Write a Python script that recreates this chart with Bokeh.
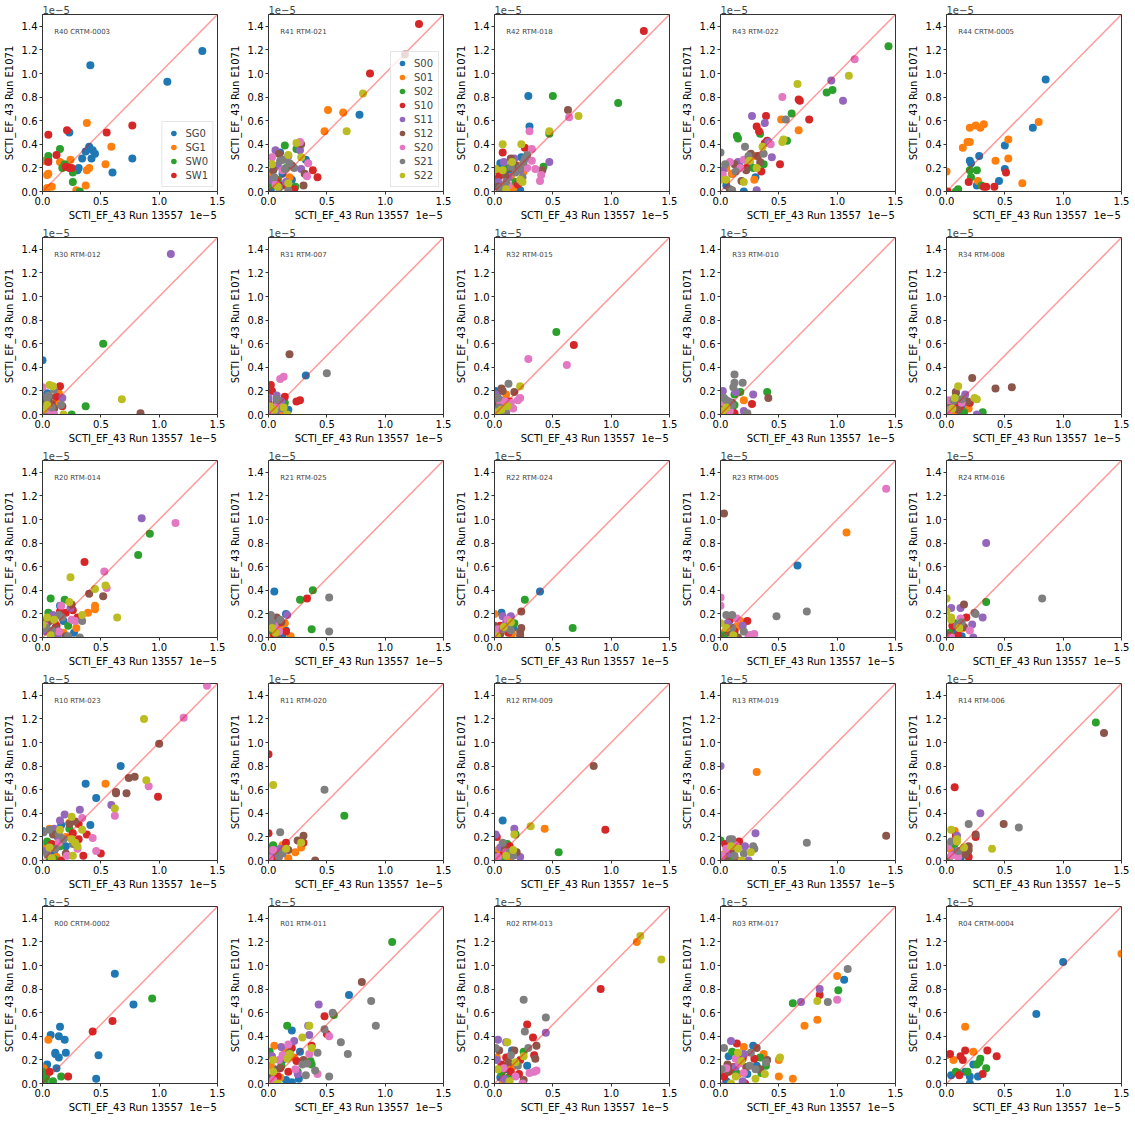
from bokeh.embed import file_html
from bokeh.layouts import gridplot
from bokeh.models import ColumnDataSource, FixedTicker, Label, PrintfTickFormatter, Range1d, Slope
from bokeh.plotting import figure
from bokeh.resources import INLINE

FONT = "DejaVu Sans"
EDGE = "#333333"
TAB10 = ["#1f77b4", "#ff7f0e", "#2ca02c", "#d62728", "#9467bd",
         "#8c564b", "#e377c2", "#7f7f7f", "#bcbd22"]

X_LABEL = "SCTI_EF_43 Run 13557"
Y_LABEL = "SCTI_EF_43 Run E1071"
X_TICKS = [0.0, 0.5, 1.0, 1.5]
Y_TICKS = [0.0, 0.2, 0.4, 0.6, 0.8, 1.0, 1.2, 1.4]
SCALE_TXT = "1e\u22125"

# values in units of 1e-5: (run 13557, run E1071)
R40 = {
    "SG0": [(1.37, 1.19), (1.07, 0.93), (0.41, 1.07), (0.23, 0.50), (0.40, 0.38), (0.37, 0.34),
            (0.43, 0.35), (0.45, 0.32), (0.42, 0.28), (0.34, 0.28), (0.31, 0.20), (0.30, 0.18),
            (0.77, 0.28), (0.60, 0.16)],
    "SG1": [(0.38, 0.58), (0.59, 0.38), (0.54, 0.23), (0.24, 0.27), (0.15, 0.25), (0.40, 0.20),
            (0.38, 0.18), (0.37, 0.05), (0.29, 0.01), (0.08, 0.04), (0.04, 0.03), (0.05, 0.15),
            (0.04, 0.14), (0.00, 0.26), (0.02, 0.26)],
    "SW0": [(0.05, 0.30), (0.15, 0.36), (0.19, 0.23), (0.17, 0.20), (0.21, 0.21), (0.26, 0.16),
            (0.26, 0.08), (0.32, 0.00), (0.05, 0.27)],
    "SW1": [(0.05, 0.48), (0.21, 0.52), (0.12, 0.31), (0.05, 0.25), (0.20, 0.21), (0.23, 0.20),
            (0.55, 0.50), (0.77, 0.56), (0.25, 0.20)],
}
R41 = {
    "S00": [(0.78, 0.65), (0.32, 0.27), (0.10, 0.33), (0.12, 0.15), (0.05, 0.08), (0.20, 0.10), (0.02, 0.02)],
    "S01": [(0.51, 0.69), (0.64, 0.67), (0.48, 0.51), (0.05, 0.20), (0.10, 0.06), (0.18, 0.12), (0.01, 0.15)],
    "S02": [(0.14, 0.39), (0.24, 0.36), (0.23, 0.04), (0.08, 0.10), (0.15, 0.20), (0.02, 0.05)],
    "S10": [(1.29, 1.42), (0.87, 1.00), (0.38, 0.18), (0.42, 0.12), (0.22, 0.02), (0.06, 0.10), (0.12, 0.05)],
    "S11": [(0.06, 0.35), (0.17, 0.30), (0.27, 0.35), (0.28, 0.19), (0.01, 0.10), (0.08, 0.22), (0.15, 0.08)],
    "S12": [(1.17, 1.16), (0.28, 0.40), (0.09, 0.32), (0.30, 0.05), (0.31, 0.15), (0.04, 0.18), (0.20, 0.22)],
    "S20": [(0.27, 0.42), (0.34, 0.24), (0.33, 0.13), (0.03, 0.29), (0.12, 0.18), (0.06, 0.06)],
    "S21": [(0.18, 0.24), (0.10, 0.26), (0.13, 0.27), (0.22, 0.20), (0.05, 0.12), (0.17, 0.01), (0.14, 0.19), (0.09, 0.03)],
    "S22": [(0.81, 0.83), (0.67, 0.51), (0.24, 0.41), (0.28, 0.29), (0.17, 0.31), (0.03, 0.23), (0.17, 0.07), (0.08, 0.04)],
}
R42 = {
    "S00": [(0.29, 0.81), (0.30, 0.55), (0.23, 0.29), (0.05, 0.24), (0.12, 0.15), (0.22, 0.01), (0.02, 0.10)],
    "S01": [(0.20, 0.22), (0.14, 0.12), (0.07, 0.05), (0.25, 0.17), (0.02, 0.18), (0.16, 0.03)],
    "S02": [(0.50, 0.81), (1.06, 0.75), (0.47, 0.49), (0.42, 0.21), (0.10, 0.20), (0.05, 0.02), (0.18, 0.08)],
    "S10": [(1.28, 1.36), (0.26, 0.37), (0.07, 0.33), (0.15, 0.20), (0.04, 0.13), (0.20, 0.06), (0.10, 0.02)],
    "S11": [(0.47, 0.25), (0.08, 0.25), (0.17, 0.28), (0.03, 0.08), (0.12, 0.12), (0.22, 0.18)],
    "S12": [(0.63, 0.69), (0.41, 0.18), (0.14, 0.28), (0.09, 0.14), (0.22, 0.09), (0.03, 0.04), (0.18, 0.22)],
    "S20": [(0.64, 0.63), (0.30, 0.51), (0.32, 0.36), (0.32, 0.26), (0.35, 0.19), (0.40, 0.14), (0.39, 0.09),
            (0.12, 0.05), (0.28, 0.20)],
    "S21": [(0.28, 0.31), (0.25, 0.25), (0.22, 0.20), (0.18, 0.16), (0.10, 0.08), (0.26, 0.28), (0.05, 0.03),
            (0.14, 0.21), (0.24, 0.12)],
    "S22": [(0.72, 0.64), (0.47, 0.51), (0.23, 0.40), (0.07, 0.40), (0.15, 0.25), (0.07, 0.18), (0.22, 0.10),
            (0.01, 0.19), (0.10, 0.02), (0.24, 0.08)],
}
R43 = {
    "S00": [(0.30, 0.12), (0.20, 0.00), (0.10, 0.15), (0.25, 0.25), (0.05, 0.05), (0.16, 0.22)],
    "S01": [(0.52, 0.61), (0.67, 0.52), (0.30, 0.30), (0.29, 0.10), (0.10, 0.15), (0.22, 0.27), (0.05, 0.20)],
    "S02": [(1.44, 1.23), (0.96, 0.86), (0.91, 0.84), (0.61, 0.66), (0.14, 0.47), (0.15, 0.45), (0.57, 0.43),
            (0.34, 0.49), (0.37, 0.23), (0.28, 0.20)],
    "S10": [(0.67, 0.78), (0.68, 0.77), (0.76, 0.61), (0.39, 0.64), (0.31, 0.55), (0.33, 0.51), (0.40, 0.43),
            (0.38, 0.41), (0.51, 0.23), (0.35, 0.17), (0.22, 0.20)],
    "S11": [(0.95, 0.94), (1.05, 0.77), (0.27, 0.64), (0.38, 0.58), (0.44, 0.29), (0.41, 0.42), (0.31, 0.01),
            (0.15, 0.25), (0.02, 0.18)],
    "S12": [(0.32, 0.30), (0.26, 0.32), (0.12, 0.23), (0.22, 0.18), (0.08, 0.02), (0.34, 0.25), (0.18, 0.09)],
    "S20": [(1.15, 1.12), (0.53, 0.80), (0.43, 0.40), (0.20, 0.27), (0.17, 0.20), (0.08, 0.25), (0.02, 0.14)],
    "S21": [(0.56, 0.61), (0.21, 0.38), (0.00, 0.33), (0.37, 0.32), (0.04, 0.23), (0.24, 0.30), (0.13, 0.17),
            (0.10, 0.01)],
    "S22": [(1.10, 0.98), (0.66, 0.91), (0.53, 0.42), (0.54, 0.44), (0.36, 0.38), (0.25, 0.26), (0.05, 0.10),
            (0.20, 0.08), (0.31, 0.20), (0.00, 0.10)],
}
R44 = {
    "SG0": [(0.85, 0.95), (0.74, 0.54), (0.50, 0.39), (0.50, 0.19), (0.45, 0.09), (0.28, 0.30), (0.20, 0.26),
            (0.21, 0.24), (0.26, 0.05)],
    "SG1": [(0.79, 0.59), (0.18, 0.42), (0.20, 0.42), (0.14, 0.37), (0.20, 0.54), (0.25, 0.56), (0.32, 0.57),
            (0.29, 0.54), (0.53, 0.44), (0.42, 0.26), (0.53, 0.28), (0.65, 0.07), (0.27, 0.09), (0.00, 0.17)],
    "SW0": [(0.20, 0.18), (0.21, 0.12), (0.26, 0.18), (0.10, 0.02), (0.08, 0.00), (0.30, 0.05)],
    "SW1": [(0.19, 0.08), (0.32, 0.04), (0.34, 0.04), (0.41, 0.04), (0.51, 0.16), (0.01, 0.00)],
}

R30 = {
    "S00": [(0.00, 0.46), (0.04, 0.18), (0.02, 0.05), (0.08, 0.02)],
    "S01": [(0.14, 0.18), (0.06, 0.06), (0.11, 0.10)],
    "S02": [(0.52, 0.60), (0.37, 0.07), (0.25, 0.00), (0.00, 0.10), (0.05, 0.03)],
    "S10": [(0.15, 0.24), (0.12, 0.15), (0.17, 0.07), (0.03, 0.08), (0.09, 0.03)],
    "S11": [(1.10, 1.36), (0.17, 0.14), (0.05, 0.12), (0.02, 0.02)],
    "S12": [(0.84, 0.01), (0.08, 0.09), (0.10, 0.05), (0.01, 0.13), (0.06, 0.15)],
    "S20": [(0.00, 0.23), (0.10, 0.00), (0.07, 0.03)],
    "S21": [(0.10, 0.21), (0.04, 0.14), (0.16, 0.08), (0.05, 0.16), (0.08, 0.06)],
    "S22": [(0.68, 0.13), (0.06, 0.25), (0.09, 0.24), (0.18, 0.00), (0.01, 0.04), (0.04, 0.08)],
}
R31 = {
    "S00": [(0.32, 0.33), (0.07, 0.11), (0.17, 0.04), (0.01, 0.01)],
    "S01": [(0.10, 0.00), (0.04, 0.04), (0.12, 0.08)],
    "S02": [(0.14, 0.10), (0.03, 0.02), (0.09, 0.06)],
    "S10": [(0.02, 0.25), (0.03, 0.20), (0.14, 0.15), (0.24, 0.11), (0.27, 0.12), (0.00, 0.10), (0.10, 0.10)],
    "S11": [(0.07, 0.16), (0.00, 0.14), (0.11, 0.11), (0.06, 0.02)],
    "S12": [(0.18, 0.51), (0.05, 0.05), (0.02, 0.01)],
    "S20": [(0.10, 0.30), (0.13, 0.32), (0.08, 0.08), (0.01, 0.03)],
    "S21": [(0.50, 0.35), (0.08, 0.12), (0.07, 0.13), (0.12, 0.05)],
    "S22": [(0.13, 0.06), (0.05, 0.04), (0.01, 0.07), (0.16, 0.00)],
}
R32 = {
    "S00": [(0.01, 0.20), (0.04, 0.08), (0.00, 0.02)],
    "S01": [(0.10, 0.17), (0.05, 0.03), (0.08, 0.06)],
    "S02": [(0.53, 0.70), (0.03, 0.05), (0.07, 0.01)],
    "S10": [(0.68, 0.59), (0.13, 0.11), (0.02, 0.09)],
    "S11": [(0.02, 0.17), (0.10, 0.02), (0.05, 0.12)],
    "S12": [(0.06, 0.22), (0.07, 0.20), (0.17, 0.19), (0.01, 0.13), (0.12, 0.08)],
    "S20": [(0.29, 0.47), (0.62, 0.42), (0.22, 0.14), (0.20, 0.12), (0.14, 0.10), (0.09, 0.11), (0.05, 0.10),
            (0.16, 0.05)],
    "S21": [(0.12, 0.26), (0.04, 0.06), (0.03, 0.14), (0.09, 0.03)],
    "S22": [(0.22, 0.24), (0.02, 0.02), (0.06, 0.04), (0.11, 0.07)],
}
R33 = {
    "S00": [(0.02, 0.06), (0.06, 0.02), (0.10, 0.04)],
    "S01": [(0.20, 0.12), (0.03, 0.01), (0.08, 0.05)],
    "S02": [(0.40, 0.19), (0.17, 0.19), (0.12, 0.17), (0.01, 0.15), (0.12, 0.08), (0.05, 0.04)],
    "S10": [(0.27, 0.09), (0.12, 0.01), (0.04, 0.07)],
    "S11": [(0.02, 0.20), (0.28, 0.17), (0.13, 0.19), (0.20, 0.03), (0.07, 0.11)],
    "S12": [(0.41, 0.14), (0.06, 0.02), (0.10, 0.10)],
    "S20": [(0.03, 0.10), (0.08, 0.03)],
    "S21": [(0.12, 0.34), (0.12, 0.27), (0.19, 0.27), (0.11, 0.23), (0.23, 0.01), (0.08, 0.10), (0.05, 0.12),
            (0.03, 0.14), (0.10, 0.08)],
    "S22": [(0.02, 0.03), (0.05, 0.06), (0.00, 0.01)],
}
R34 = {
    "S00": [(0.12, 0.02), (0.14, 0.08), (0.04, 0.06)],
    "S01": [(0.19, 0.05), (0.06, 0.02)],
    "S02": [(0.31, 0.02), (0.08, 0.18), (0.15, 0.02), (0.09, 0.09)],
    "S10": [(0.20, 0.10), (0.00, 0.03), (0.11, 0.06)],
    "S11": [(0.16, 0.17), (0.26, 0.00), (0.04, 0.08)],
    "S12": [(0.22, 0.31), (0.42, 0.22), (0.56, 0.23), (0.08, 0.19), (0.18, 0.11), (0.01, 0.11), (0.10, 0.04)],
    "S20": [(0.02, 0.12), (0.13, 0.10), (0.03, 0.04), (0.00, 0.01)],
    "S21": [(0.06, 0.12), (0.13, 0.13)],
    "S22": [(0.10, 0.24), (0.24, 0.14), (0.26, 0.13), (0.07, 0.14), (0.05, 0.05)],
}

R20 = {
    "S00": [(0.15, 0.27), (0.27, 0.04), (0.04, 0.12), (0.10, 0.02), (0.18, 0.14)],
    "S01": [(0.45, 0.27), (0.45, 0.24), (0.39, 0.21), (0.29, 0.08), (0.08, 0.18), (0.18, 0.04)],
    "S02": [(0.92, 0.88), (0.82, 0.70), (0.07, 0.33), (0.19, 0.32), (0.22, 0.10), (0.05, 0.21), (0.12, 0.06)],
    "S10": [(0.36, 0.64), (0.26, 0.23), (0.20, 0.21), (0.30, 0.17), (0.12, 0.10), (0.02, 0.14), (0.15, 0.22)],
    "S11": [(0.85, 1.01), (0.24, 0.25), (0.09, 0.19), (0.13, 0.00), (0.03, 0.05)],
    "S12": [(0.40, 0.37), (0.52, 0.35), (0.25, 0.28), (0.11, 0.08), (0.06, 0.14), (0.20, 0.01)],
    "S20": [(1.14, 0.97), (0.53, 0.56), (0.55, 0.42), (0.16, 0.27), (0.25, 0.15), (0.14, 0.05), (0.28, 0.14),
            (0.02, 0.10)],
    "S21": [(0.34, 0.14), (0.32, 0.00), (0.14, 0.19), (0.03, 0.08), (0.17, 0.17), (0.22, 0.01), (0.08, 0.06)],
    "S22": [(0.24, 0.51), (0.54, 0.44), (0.45, 0.41), (0.23, 0.30), (0.64, 0.17), (0.34, 0.19), (0.04, 0.17),
            (0.10, 0.15), (0.07, 0.02), (0.00, 0.11)],
}
R21 = {
    "S00": [(0.05, 0.39), (0.15, 0.20), (0.15, 0.06), (0.12, 0.00), (0.08, 0.10)],
    "S01": [(0.14, 0.12), (0.19, 0.01), (0.10, 0.08), (0.04, 0.03)],
    "S02": [(0.38, 0.40), (0.27, 0.32), (0.37, 0.07), (0.02, 0.06)],
    "S10": [(0.33, 0.33), (0.15, 0.05), (0.05, 0.02)],
    "S11": [(0.16, 0.19), (0.06, 0.12)],
    "S12": [(0.07, 0.17), (0.08, 0.01), (0.11, 0.13)],
    "S20": [(0.05, 0.10), (0.09, 0.05)],
    "S21": [(0.52, 0.34), (0.52, 0.05), (0.02, 0.19), (0.10, 0.15), (0.03, 0.13)],
    "S22": [(0.03, 0.08), (0.06, 0.04)],
}
R22 = {
    "S00": [(0.39, 0.39), (0.06, 0.21), (0.16, 0.08), (0.03, 0.02)],
    "S01": [(0.00, 0.20), (0.15, 0.03), (0.08, 0.06)],
    "S02": [(0.26, 0.32), (0.67, 0.08), (0.17, 0.12), (0.04, 0.05)],
    "S10": [(0.05, 0.10), (0.12, 0.04)],
    "S11": [(0.07, 0.18), (0.14, 0.18), (0.10, 0.13)],
    "S12": [(0.23, 0.22), (0.23, 0.08), (0.22, 0.05), (0.22, 0.02), (0.00, 0.10), (0.05, 0.03)],
    "S20": [(0.11, 0.15), (0.03, 0.07)],
    "S21": [(0.14, 0.06), (0.10, 0.08), (0.07, 0.07), (0.12, 0.10)],
    "S22": [(0.14, 0.13), (0.08, 0.09), (0.02, 0.01)],
}
R23 = {
    "S00": [(0.66, 0.61), (0.07, 0.11), (0.02, 0.03)],
    "S01": [(1.08, 0.89), (0.17, 0.14), (0.14, 0.09), (0.04, 0.05)],
    "S02": [(0.03, 0.02), (0.10, 0.06)],
    "S10": [(0.23, 0.14), (0.08, 0.15), (0.12, 0.05)],
    "S11": [(0.19, 0.10), (0.26, 0.02), (0.06, 0.12)],
    "S12": [(0.03, 1.05), (0.08, 0.04), (0.15, 0.00)],
    "S20": [(1.42, 1.26), (0.00, 0.27), (0.29, 0.03), (0.24, 0.02), (0.14, 0.16), (0.00, 0.34)],
    "S21": [(0.74, 0.22), (0.48, 0.18), (0.10, 0.19), (0.05, 0.19), (0.20, 0.05), (0.10, 0.08)],
    "S22": [(0.05, 0.08), (0.11, 0.02), (0.00, 0.12)],
}
R24 = {
    "S00": [(0.13, 0.01), (0.06, 0.06)],
    "S01": [(0.14, 0.08), (0.02, 0.02)],
    "S02": [(0.34, 0.30), (0.07, 0.12), (0.03, 0.04)],
    "S10": [(0.17, 0.17), (0.05, 0.10), (0.10, 0.02)],
    "S11": [(0.34, 0.80), (0.04, 0.25), (0.12, 0.25), (0.31, 0.17), (0.22, 0.11), (0.23, 0.00)],
    "S12": [(0.15, 0.28), (0.15, 0.09), (0.01, 0.02)],
    "S20": [(0.20, 0.06), (0.12, 0.16), (0.04, 0.00)],
    "S21": [(0.82, 0.33), (0.25, 0.20), (0.24, 0.21), (0.13, 0.13), (0.09, 0.10), (0.11, 0.11)],
    "S22": [(0.00, 0.33), (0.00, 0.22), (0.04, 0.17), (0.04, 0.15), (0.11, 0.08)],
}

R10 = {
    "S00": [(0.67, 0.80), (0.37, 0.65), (0.46, 0.53), (0.41, 0.30), (0.16, 0.30), (0.00, 0.25), (0.10, 0.05),
            (0.20, 0.12)],
    "S01": [(0.54, 0.65), (0.23, 0.32), (0.06, 0.27), (0.12, 0.03), (0.20, 0.20), (0.02, 0.12)],
    "S02": [(0.23, 0.27), (0.06, 0.00), (0.04, 0.16), (0.15, 0.12), (0.10, 0.01)],
    "S10": [(0.99, 0.54), (0.38, 0.22), (0.50, 0.06), (0.35, 0.04), (0.31, 0.31), (0.26, 0.23), (0.31, 0.18),
            (0.16, 0.00), (0.08, 0.14)],
    "S11": [(0.59, 0.47), (0.32, 0.43), (0.19, 0.39), (0.15, 0.34), (0.10, 0.27), (0.13, 0.20), (0.03, 0.08)],
    "S12": [(1.00, 0.99), (0.74, 0.70), (0.79, 0.71), (0.63, 0.58), (0.63, 0.57), (0.72, 0.57), (0.28, 0.33),
            (0.23, 0.31), (0.09, 0.22), (0.20, 0.06)],
    "S20": [(1.41, 1.48), (1.21, 1.21), (0.91, 0.63), (0.62, 0.38), (0.34, 0.36), (0.43, 0.19), (0.46, 0.08),
            (0.30, 0.10), (0.21, 0.04), (0.14, 0.15)],
    "S21": [(0.06, 0.26), (0.01, 0.24), (0.11, 0.10), (0.18, 0.18), (0.04, 0.05), (0.26, 0.14), (0.14, 0.22)],
    "S22": [(0.87, 1.20), (0.89, 0.68), (0.62, 0.44), (0.25, 0.37), (0.34, 0.26), (0.25, 0.18), (0.28, 0.15),
            (0.30, 0.12), (0.26, 0.04), (0.06, 0.11), (0.15, 0.26), (0.08, 0.02)],
}
R11 = {
    "S00": [(0.08, 0.07), (0.02, 0.03)],
    "S01": [(0.28, 0.11), (0.12, 0.13), (0.23, 0.07), (0.17, 0.02)],
    "S02": [(0.65, 0.38), (0.04, 0.13), (0.00, 0.11), (0.06, 0.05)],
    "S10": [(0.00, 0.90), (0.00, 0.23), (0.30, 0.15), (0.15, 0.15), (0.05, 0.01)],
    "S11": [(0.03, 0.06), (0.10, 0.10)],
    "S12": [(0.30, 0.21), (0.25, 0.17), (0.17, 0.09), (0.40, 0.00)],
    "S20": [(0.04, 0.09), (0.01, 0.02)],
    "S21": [(0.48, 0.60), (0.10, 0.24), (0.09, 0.03), (0.12, 0.06)],
    "S22": [(0.04, 0.64), (0.28, 0.15), (0.15, 0.10)],
}
R12 = {
    "S00": [(0.07, 0.34), (0.04, 0.05), (0.12, 0.02)],
    "S01": [(0.43, 0.27), (0.13, 0.02), (0.03, 0.09)],
    "S02": [(0.55, 0.07), (0.18, 0.22), (0.11, 0.14), (0.06, 0.01)],
    "S10": [(0.95, 0.26), (0.02, 0.20), (0.13, 0.12), (0.08, 0.06)],
    "S11": [(0.17, 0.27), (0.01, 0.22), (0.22, 0.03), (0.05, 0.11)],
    "S12": [(0.85, 0.80), (0.19, 0.07), (0.09, 0.10), (0.00, 0.04)],
    "S20": [(0.03, 0.03), (0.10, 0.07)],
    "S21": [(0.07, 0.15), (0.16, 0.04), (0.13, 0.07)],
    "S22": [(0.31, 0.29), (0.17, 0.22), (0.16, 0.09), (0.10, 0.04)],
}
R13 = {
    "S00": [(0.06, 0.08), (0.02, 0.02)],
    "S01": [(0.31, 0.75), (0.03, 0.05)],
    "S02": [(0.00, 0.17), (0.07, 0.12), (0.10, 0.02)],
    "S10": [(0.16, 0.16), (0.14, 0.00), (0.04, 0.14)],
    "S11": [(0.00, 0.80), (0.30, 0.23), (0.21, 0.12), (0.24, 0.00), (0.08, 0.06)],
    "S12": [(1.42, 0.21), (0.05, 0.00), (0.11, 0.09)],
    "S20": [(0.05, 0.10), (0.01, 0.04), (0.13, 0.13)],
    "S21": [(0.74, 0.15), (0.28, 0.12), (0.29, 0.10), (0.10, 0.18), (0.08, 0.18), (0.12, 0.04), (0.20, 0.06)],
    "S22": [(0.15, 0.10), (0.09, 0.12), (0.26, 0.07), (0.18, 0.00)],
}
R14 = {
    "S00": [(0.05, 0.08), (0.12, 0.02)],
    "S01": [(0.07, 0.25), (0.03, 0.10), (0.12, 0.08)],
    "S02": [(1.28, 1.17), (0.07, 0.14), (0.18, 0.06), (0.02, 0.02)],
    "S10": [(0.07, 0.62), (0.25, 0.20), (0.08, 0.21), (0.19, 0.03)],
    "S11": [(0.29, 0.40), (0.09, 0.21), (0.06, 0.05)],
    "S12": [(1.35, 1.08), (0.49, 0.31), (0.25, 0.22), (0.19, 0.12), (0.19, 0.09), (0.16, 0.05)],
    "S20": [(0.10, 0.03), (0.01, 0.12), (0.04, 0.04)],
    "S21": [(0.19, 0.31), (0.62, 0.28), (0.04, 0.16), (0.10, 0.08)],
    "S22": [(0.04, 0.26), (0.09, 0.18), (0.09, 0.16), (0.39, 0.10), (0.15, 0.11)],
}

R00 = {
    "SG0": [(0.62, 0.93), (0.78, 0.67), (0.07, 0.41), (0.15, 0.48), (0.14, 0.40), (0.19, 0.37), (0.11, 0.26),
            (0.11, 0.25), (0.14, 0.22), (0.20, 0.26), (0.04, 0.16), (0.12, 0.13), (0.48, 0.24), (0.46, 0.04)],
    "SG1": [(0.05, 0.37), (0.01, 0.13)],
    "SW0": [(0.94, 0.72), (0.16, 0.06), (0.09, 0.02), (0.00, 0.10), (0.03, 0.05), (0.02, 0.01)],
    "SW1": [(0.60, 0.53), (0.43, 0.44), (0.06, 0.10), (0.22, 0.06)],
}
R01 = {
    "S00": [(0.69, 0.75), (0.20, 0.45), (0.27, 0.27), (0.26, 0.04), (0.15, 0.03), (0.20, 0.01), (0.05, 0.12),
            (0.12, 0.20)],
    "S01": [(0.05, 0.32), (0.10, 0.05), (0.22, 0.22), (0.02, 0.15), (0.14, 0.28)],
    "S02": [(1.06, 1.20), (0.56, 0.58), (0.16, 0.49), (0.36, 0.19), (0.37, 0.16), (0.01, 0.27), (0.11, 0.15),
            (0.25, 0.10)],
    "S10": [(0.48, 0.57), (0.50, 0.42), (0.37, 0.32), (0.17, 0.10), (0.24, 0.19), (0.08, 0.06), (0.20, 0.30)],
    "S11": [(0.43, 0.67), (0.34, 0.49), (0.35, 0.41), (0.22, 0.36), (0.11, 0.31), (0.03, 0.23), (0.25, 0.08)],
    "S12": [(0.80, 0.86), (0.18, 0.26), (0.10, 0.13), (0.30, 0.20), (0.02, 0.05)],
    "S20": [(0.52, 0.40), (0.17, 0.33), (0.35, 0.25), (0.42, 0.08), (0.09, 0.20), (0.04, 0.03), (0.23, 0.12),
            (0.12, 0.24)],
    "S21": [(0.88, 0.70), (0.55, 0.60), (0.92, 0.49), (0.48, 0.46), (0.62, 0.35), (0.42, 0.26), (0.68, 0.25),
            (0.33, 0.17), (0.29, 0.16), (0.40, 0.11), (0.32, 0.07), (0.52, 0.06)],
    "S22": [(0.35, 0.49), (0.29, 0.39), (0.37, 0.30), (0.16, 0.21), (0.04, 0.20), (0.04, 0.10), (0.18, 0.25),
            (0.08, 0.00)],
}
R02 = {
    "S00": [(0.28, 0.15), (0.15, 0.28), (0.05, 0.05), (0.10, 0.12)],
    "S01": [(1.22, 1.20), (0.15, 0.14), (0.07, 0.00), (0.02, 0.22)],
    "S02": [(0.25, 0.27), (0.06, 0.09), (0.12, 0.05)],
    "S10": [(0.91, 0.80), (0.28, 0.50), (0.33, 0.39), (0.34, 0.24), (0.22, 0.20), (0.10, 0.22), (0.21, 0.08),
            (0.06, 0.16), (0.14, 0.10)],
    "S11": [(0.44, 0.43), (0.03, 0.37), (0.10, 0.35), (0.02, 0.20), (0.08, 0.04)],
    "S12": [(0.36, 0.32), (0.35, 0.21), (0.17, 0.28), (0.25, 0.03), (0.04, 0.28), (0.12, 0.18)],
    "S20": [(0.36, 0.11), (0.34, 0.10), (0.30, 0.09), (0.24, 0.00), (0.08, 0.13), (0.18, 0.06)],
    "S21": [(0.25, 0.71), (0.44, 0.56), (0.26, 0.44), (0.29, 0.30), (0.01, 0.30), (0.20, 0.15), (0.14, 0.24)],
    "S22": [(1.25, 1.25), (1.43, 1.05), (0.11, 0.35), (0.25, 0.23), (0.18, 0.18), (0.13, 0.02), (0.03, 0.12)],
}
R03 = {
    "S00": [(1.06, 0.88), (0.28, 0.32), (0.31, 0.15), (0.23, 0.08), (0.07, 0.23), (0.05, 0.02)],
    "S01": [(1.00, 0.91), (0.72, 0.49), (0.83, 0.54), (0.50, 0.20), (0.50, 0.06), (0.62, 0.04), (0.20, 0.31),
            (0.37, 0.25), (0.15, 0.08)],
    "S02": [(1.01, 0.79), (0.62, 0.68), (0.10, 0.27), (0.34, 0.22), (0.39, 0.15), (0.35, 0.09), (0.13, 0.10)],
    "S10": [(0.85, 0.75), (0.14, 0.34), (0.19, 0.21), (0.29, 0.21), (0.11, 0.14), (0.21, 0.00), (0.03, 0.06)],
    "S11": [(0.85, 0.80), (0.69, 0.69), (0.09, 0.36), (0.20, 0.25), (0.13, 0.14), (0.19, 0.02)],
    "S12": [(0.31, 0.30), (0.40, 0.20), (0.34, 0.12), (0.06, 0.16), (0.07, 0.10), (0.22, 0.14)],
    "S20": [(1.00, 0.71), (0.13, 0.21), (0.20, 0.09), (0.05, 0.13), (0.16, 0.17)],
    "S21": [(1.09, 0.97), (0.92, 0.69), (0.03, 0.30), (0.26, 0.26), (0.39, 0.18), (0.25, 0.15), (0.01, 0.12),
            (0.30, 0.12)],
    "S22": [(0.83, 0.70), (0.51, 0.22), (0.15, 0.26), (0.18, 0.19), (0.38, 0.08), (0.30, 0.04), (0.13, 0.06),
            (0.09, 0.00)],
}
R04 = {
    "SG0": [(1.00, 1.03), (0.77, 0.59), (0.23, 0.16), (0.27, 0.06), (0.20, 0.06), (0.20, 0.00), (0.16, 0.10),
            (0.04, 0.07)],
    "SG1": [(0.16, 0.48), (0.23, 0.27), (0.06, 0.20), (0.00, 0.24), (1.50, 1.10)],
    "SW0": [(0.29, 0.21), (0.28, 0.18), (0.26, 0.16), (0.34, 0.13), (0.18, 0.10), (0.08, 0.10), (0.10, 0.09)],
    "SW1": [(0.03, 0.25), (0.16, 0.28), (0.35, 0.28), (0.43, 0.23), (0.12, 0.23), (0.14, 0.20), (0.31, 0.08),
            (0.11, 0.07)],
}

GRID = [
    [("R40 CRTM-0003", R40), ("R41 RTM-021", R41), ("R42 RTM-018", R42), ("R43 RTM-022", R43), ("R44 CRTM-0005", R44)],
    [("R30 RTM-012", R30), ("R31 RTM-007", R31), ("R32 RTM-015", R32), ("R33 RTM-010", R33), ("R34 RTM-008", R34)],
    [("R20 RTM-014", R20), ("R21 RTM-025", R21), ("R22 RTM-024", R22), ("R23 RTM-005", R23), ("R24 RTM-016", R24)],
    [("R10 RTM-023", R10), ("R11 RTM-020", R11), ("R12 RTM-009", R12), ("R13 RTM-019", R13), ("R14 RTM-006", R14)],
    [("R00 CRTM-0002", R00), ("R01 RTM-011", R01), ("R02 RTM-013", R02), ("R03 RTM-017", R03), ("R04 CRTM-0004", R04)],
]
LEGEND_PANELS = ["R40 CRTM-0003", "R41 RTM-021"]

FRAME_W, FRAME_H = 175, 177
LIM = 1.5
NBSP = "\u00a0"
# the x label is centred on the frame; pad it so the 1e-5 offset ends at the right edge
X_LABEL_LINE = NBSP * 8 + X_LABEL + NBSP * 2 + SCALE_TXT


def style_axis(ax, ticks, label, label_standoff):
    ax.ticker = FixedTicker(ticks=ticks)
    ax.formatter = PrintfTickFormatter(format="%.1f")
    ax.axis_label = label
    ax.axis_label_text_font = FONT
    ax.axis_label_text_font_size = "10px"
    ax.axis_label_text_font_style = "normal"
    ax.axis_label_text_color = "black"
    ax.axis_label_standoff = label_standoff
    ax.major_label_text_font = FONT
    ax.major_label_text_font_size = "10px"
    ax.major_label_text_color = "black"
    ax.major_label_standoff = 2
    ax.major_tick_out = 3
    ax.major_tick_in = 0
    ax.minor_tick_out = 0
    ax.minor_tick_in = 0
    ax.axis_line_color = EDGE
    ax.major_tick_line_color = EDGE


def make_panel(name, data):
    p = figure(frame_width=FRAME_W, frame_height=FRAME_H,
               x_range=Range1d(0, LIM), y_range=Range1d(0, LIM),
               min_border_left=39, min_border_right=9, min_border_top=14, min_border_bottom=31,
               output_backend="svg", toolbar_location=None, title=SCALE_TXT)
    p.title.align = "left"
    p.title.text_font = FONT
    p.title.text_font_size = "10px"
    p.title.text_font_style = "normal"
    p.title.standoff = 2
    p.xgrid.visible = False
    p.ygrid.visible = False
    p.outline_line_color = EDGE
    p.outline_line_alpha = 1
    style_axis(p.xaxis[0], X_TICKS, X_LABEL_LINE, 2)
    style_axis(p.yaxis[0], Y_TICKS, Y_LABEL, 4)

    show_legend = name in LEGEND_PANELS
    for i, (sensor, pts) in enumerate(data.items()):
        src = ColumnDataSource({"x": [a for a, b in pts], "y": [b for a, b in pts]})
        extra = {"legend_label": sensor} if show_legend else {}
        p.scatter("x", "y", source=src, size=8, fill_color=TAB10[i], line_color=None, **extra)

    p.add_layout(Slope(gradient=1, y_intercept=0, line_color="red", line_alpha=0.4, line_width=1.5))
    p.add_layout(Label(x=0.1, y=1.35, text=name, text_font=FONT, text_font_size="7px",
                       text_align="left", text_baseline="alphabetic"))

    if show_legend:
        lg = p.legend[0]
        lg.location = "bottom_right"
        lg.label_text_font = FONT
        lg.label_text_font_size = "10px"
        lg.glyph_width = 14
        lg.glyph_height = 14
        lg.label_height = 13
        lg.label_standoff = 5
        lg.spacing = 0
        lg.padding = 4
        lg.margin = 4
        lg.border_line_color = "#cccccc"
        lg.background_fill_alpha = 0.8
    return p


rows = [[make_panel(name, data) for name, data in row] for row in GRID]
grid = gridplot(rows, toolbar_location=None)

open("out.html", "w").write(file_html(grid, INLINE))
